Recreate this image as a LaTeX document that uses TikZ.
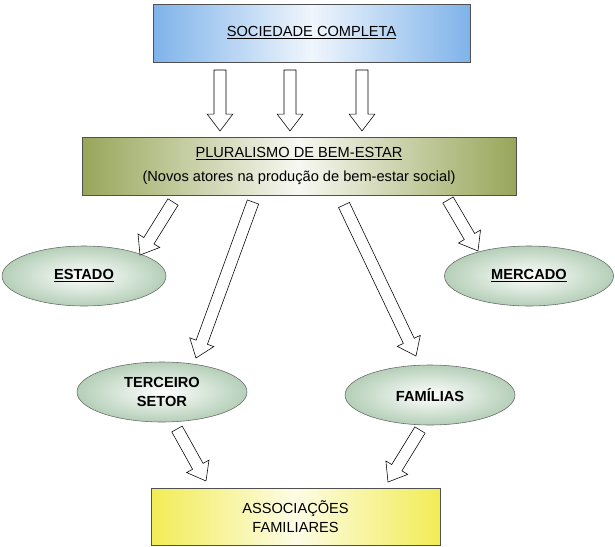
\documentclass[tikz,border=0pt]{standalone}
\usepackage{fontspec}
\setmainfont{Liberation Sans}
\usepackage{tikz}
\usetikzlibrary{calc,shapes.geometric}
\definecolor{sky}{HTML}{7FB3EA}
\definecolor{olive}{HTML}{98A65A}
\definecolor{sage}{HTML}{B5CFB8}
\definecolor{lemon}{HTML}{F2EC55}
\definecolor{edge}{HTML}{505050}
\newcommand{\ul}[1]{\underline{#1}}
% hollow block arrow between two named points
\newcommand{\blockarrow}[2]{%
  \coordinate (hb) at ($(#2)!0.42cm!(#1)$);
  \draw[blk] ($(#1)!0.15cm!90:(#2)$) -- ($(hb)!0.15cm!-90:(#1)$)
    -- ($(hb)!0.32cm!-90:(#1)$) -- (#2) -- ($(hb)!0.32cm!90:(#1)$)
    -- ($(hb)!0.15cm!90:(#1)$) -- ($(#1)!0.15cm!-90:(#2)$) -- cycle;}
\tikzset{
  box/.style={draw=edge,thin,minimum height=1.45cm,inner sep=2pt,align=center,font=\fontsize{10.4}{13.5}\selectfont},
  oval/.style={ellipse,draw=edge!80!sage,thin,inner sep=0pt,minimum width=4.2cm,minimum height=1.5cm,
    inner color=white,outer color=sage,align=center,font=\fontsize{10.4}{14}\selectfont\bfseries},
  blk/.style={draw=black,thin,fill=white,line join=miter},
}
\begin{document}
\begin{tikzpicture}
\useasboundingbox (0,0) rectangle (15.375,-13.675);
\node[box,minimum width=7.925cm,left color=sky,right color=sky,middle color=sky!12] (soc) at (7.79,-0.825) {\ul{SOCIEDADE COMPLETA}};
\node[box,minimum width=10.85cm,left color=olive,right color=olive,middle color=olive!8] (plu) at (7.475,-4.15)
  {\ul{PLURALISMO DE BEM-ESTAR}\\[4pt](Novos atores na produção de bem-estar social)};
\node[oval,minimum width=4.1cm] (est) at (2.1,-6.9) {\ul{ESTADO}};
\node[oval,minimum width=4.225cm] (mer) at (13.225,-6.9) {\ul{MERCADO}};
\node[oval,minimum width=4.25cm] (ter) at (4.05,-9.8) {TERCEIRO\\SETOR};
\node[oval,minimum width=4.25cm] (fam) at (10.75,-9.875) {FAMÍLIAS};
\node[box,minimum width=7.225cm,minimum height=1.425cm,left color=lemon,right color=lemon,middle color=lemon!15] (ass) at (7.3875,-12.9125)
  {ASSOCIAÇÕES\\FAMILIARES};
% arrow ends
\coordinate (s1) at (5.5,-1.75);   \coordinate (p1) at (5.5,-3.275);
\coordinate (s2) at (7.25,-1.75);  \coordinate (p2) at (7.25,-3.275);
\coordinate (s3) at (9.05,-1.75);  \coordinate (p3) at (9.05,-3.275);
\coordinate (e0) at (4.325,-5.05); \coordinate (e1) at (3.5,-6.375);
\coordinate (t0) at (6.325,-5.05); \coordinate (t1) at (4.9,-8.95);
\coordinate (f0) at (8.6,-5.125);  \coordinate (f1) at (10.4,-8.9);
\coordinate (m0) at (11.2,-5.0);   \coordinate (m1) at (11.95,-6.275);
\coordinate (a0) at (4.425,-10.725); \coordinate (a1) at (5.15,-12.025);
\coordinate (b0) at (10.5,-10.75); \coordinate (b1) at (9.7,-12.05);
\blockarrow{s1}{p1}
\blockarrow{s2}{p2}
\blockarrow{s3}{p3}
\blockarrow{e0}{e1}
\blockarrow{t0}{t1}
\blockarrow{f0}{f1}
\blockarrow{m0}{m1}
\blockarrow{a0}{a1}
\blockarrow{b0}{b1}
\end{tikzpicture}
\end{document}
